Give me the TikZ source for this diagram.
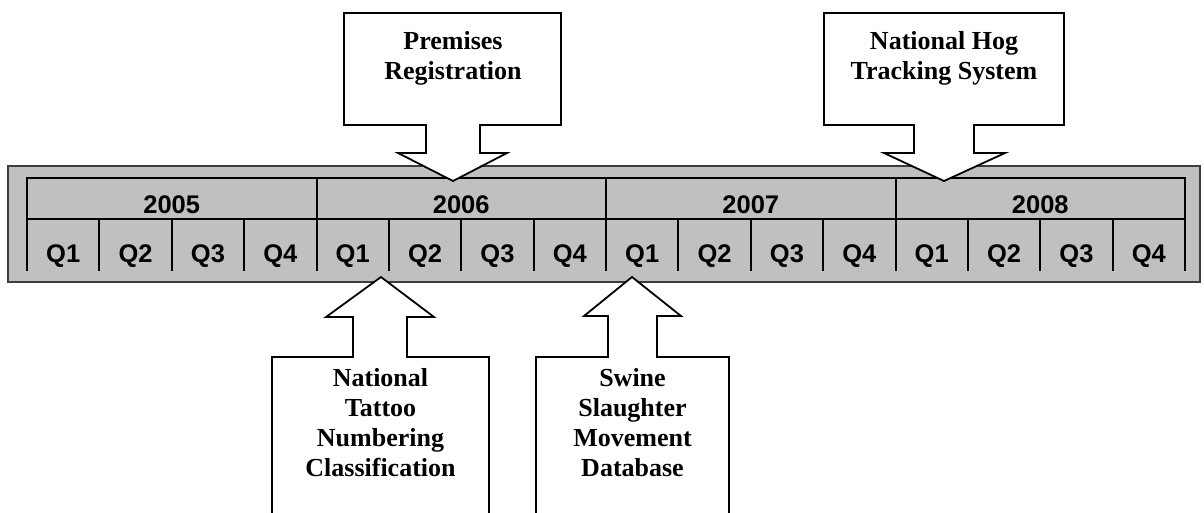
\documentclass[tikz,border=0pt]{standalone}
\usepackage{fontspec}
\setmainfont{Liberation Serif}
\newfontfamily\tabfont{Liberation Sans}
\definecolor{bandgray}{RGB}{192,192,192}
\definecolor{framegray}{RGB}{60,60,60}
\begin{document}
\begin{tikzpicture}[x=1pt,y=-1pt,line join=miter,
  band/.style={fill=bandgray,draw=framegray,line width=2pt},
  gridline/.style={line width=2pt,draw=black},
  tablbl/.style={font=\tabfont\bfseries\fontsize{25.5}{30}\selectfont,inner sep=0pt},
  calloutshape/.style={fill=white,draw=black,line width=1.8pt},
  calltext/.style={font=\bfseries\fontsize{26}{30}\selectfont,align=center,inner sep=0pt}]
\useasboundingbox (0,0) rectangle (1204,512);
% timeline band
\path[band] (8,166) rectangle (1200,282);
% table grid
\draw[gridline] (27,271) -- (27,178) -- (1185,178) -- (1185,271);
\draw[gridline] (27,219) -- (1185,219);
\foreach \i in {1,2,3}{\draw[gridline] ({27+289.5*\i},178) -- ({27+289.5*\i},271);}
\foreach \k in {1,2,3,5,6,7,9,10,11,13,14,15}{\draw[gridline] ({27+72.375*\k},219) -- ({27+72.375*\k},271);}
% labels
\foreach \yr [count=\i from 0] in {2005,2006,2007,2008}{
  \node[tablbl] (y\yr) at ({27+289.5*(\i+0.5)},204.5) {\yr};}
\foreach \k in {0,...,15}{
  \pgfmathtruncatemacro\qn{mod(\k,4)+1}
  \node[tablbl] (q\k) at ({27+72.375*(\k+0.5)},256) {Q\qn};}
% callouts from above
\coordinate (premtip) at (453,181);
\draw[calloutshape] (344,13) -- (561,13) -- (561,125) -- (480,125) -- (480,153) -- (507,153)
  -- (premtip) -- (398,153) -- (426,153) -- (426,125) -- (344,125) -- cycle;
\node[calltext] (prem) at (453,58.5) {Premises\\Registration};
\coordinate (hogtip) at (944,181);
\draw[calloutshape] (824,13) -- (1064,13) -- (1064,125) -- (974,125) -- (974,153) -- (1005,153)
  -- (hogtip) -- (884,153) -- (914,153) -- (914,125) -- (824,125) -- cycle;
\node[calltext] (hog) at (944,58.5) {National Hog\\Tracking System};
% callouts from below
\coordinate (tattip) at (381,277);
\draw[calloutshape] (272,530) -- (272,357) -- (353,357) -- (353,317) -- (326,317) -- (tattip)
  -- (434,317) -- (407,317) -- (407,357) -- (489,357) -- (489,530);
\node[calltext] (tat) at (380.5,422.5) {National\\Tattoo\\Numbering\\Classification};
\coordinate (swtip) at (632,277);
\draw[calloutshape] (536,530) -- (536,357) -- (608,357) -- (608,316) -- (584,316) -- (swtip)
  -- (681,316) -- (657,316) -- (657,357) -- (729,357) -- (729,530);
\node[calltext] (sw) at (632.5,422.5) {Swine\\Slaughter\\Movement\\Database};
\end{tikzpicture}
\end{document}
